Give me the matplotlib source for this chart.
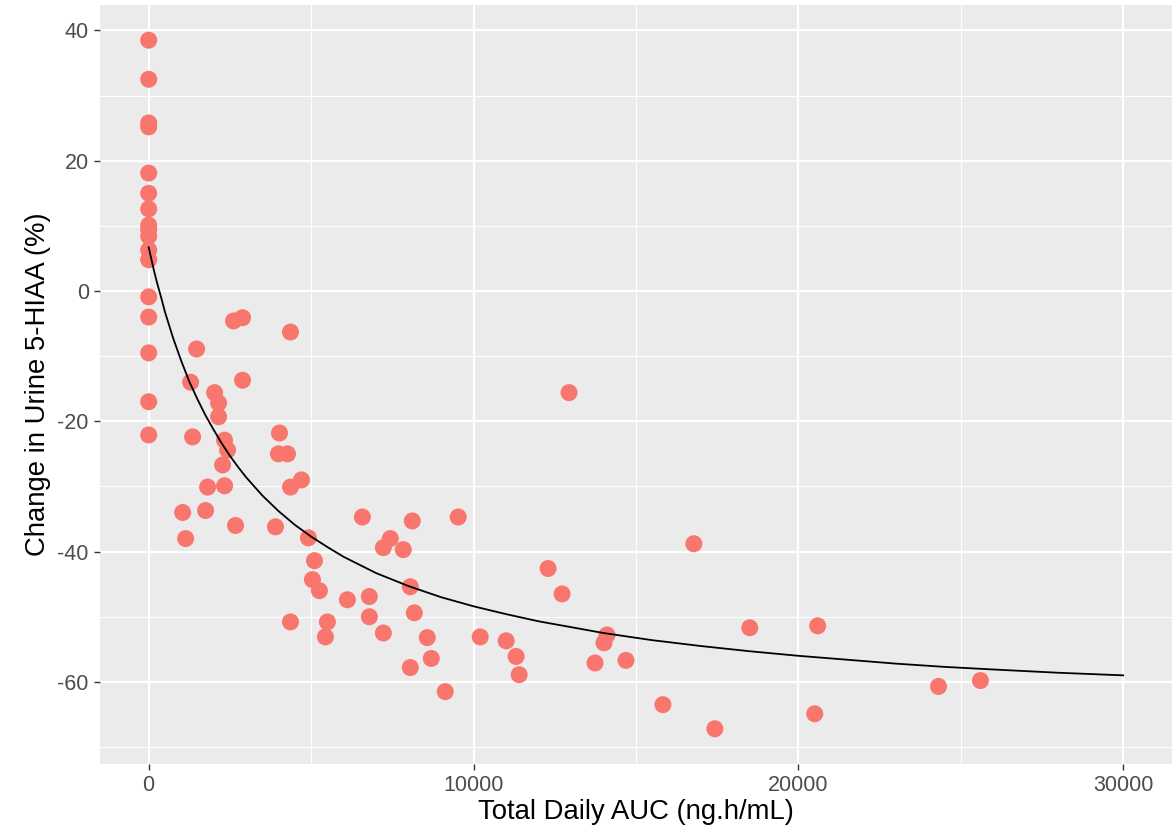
import matplotlib.pyplot as plt
import numpy as np

plt.rcParams['font.family'] = ['Liberation Sans', 'DejaVu Sans']
plt.rcParams['axes.unicode_minus'] = False

# observed points (AUC, % change)
auc = [0, 0, 0, 0, 0, 0, 0, 0, 0, 0, 0, 0, 0, 0, 0, 0, 0,
       2613, 2889, 4365, 1475, 1291, 2889, 2029, 2152, 2152, 12941,
       1352, 4027, 3996, 4273, 2336, 2428, 2275, 1814, 2336, 4365,
       4703, 1045, 1752, 2674, 1137, 3904, 4918, 5103, 5041, 5256,
       4365, 5502, 5441, 6117, 6793, 6793, 7224, 6578, 8115, 9529,
       7224, 7439, 7838, 8054, 8177, 8576, 8699, 8054, 9130, 10206,
       11005, 11312, 11405, 12296, 12726, 14110, 14017, 13741, 14694,
       16784, 15831, 17430, 18505, 20596, 20504, 24315, 25606]
change = [38.5, 32.5, 25.8, 25.2, 18.1, 15.0, 12.6, 10.1, 9.4, 8.4,
          6.3, 4.8, -0.9, -4.0, -9.5, -17.0, -22.1,
          -4.6, -4.1, -6.3, -8.9, -14.0, -13.7, -15.6, -17.2, -19.3, -15.6,
          -22.4, -21.8, -25.0, -25.0, -22.9, -24.4, -26.7, -30.1, -29.9, -30.1,
          -29.0, -34.0, -33.7, -36.0, -38.0, -36.2, -37.9, -41.4, -44.3, -46.0,
          -50.8, -50.8, -53.1, -47.4, -46.9, -50.0, -52.5, -34.7, -35.3, -34.7,
          -39.4, -38.0, -39.7, -45.4, -49.4, -53.2, -56.4, -57.8, -61.5, -53.1,
          -53.7, -56.1, -58.9, -42.6, -46.5, -52.8, -54.0, -57.1, -56.7,
          -38.8, -63.5, -67.2, -51.7, -51.4, -64.9, -60.7, -59.8]

# fitted curve
curve_auc = [0, 50, 100, 150, 200, 250, 300, 400, 500, 600, 750, 900,
             1000, 1250, 1500, 1750, 2000, 2250, 2500, 2750, 3000, 3500,
             4000, 4500, 5000, 5500, 6000, 7000, 8000, 9000, 10000, 11000,
             12000, 13000, 14000, 15500, 17000, 18500, 20000, 21500, 23000,
             24500, 26000, 28000, 30000]
curve_change = [6.7, 5.6, 4.5, 3.4, 2.4, 1.4, 0.5, -1.3, -3.2, -4.8, -7.2,
                -9.3, -10.7, -13.9, -16.6, -19.1, -21.3, -23.4, -25.3,
                -27.0, -28.6, -31.4, -33.8, -35.9, -37.7, -39.3, -40.8,
                -43.3, -45.3, -47.0, -48.4, -49.6, -50.7, -51.6, -52.5,
                -53.6, -54.5, -55.3, -56.0, -56.6, -57.2, -57.7, -58.1,
                -58.6, -59.0]

x_ticks = [0, 10000, 20000, 30000]
y_ticks = [-60, -40, -20, 0, 20, 40]

fig = plt.figure(figsize=(11.76, 8.34), dpi=100)
ax = fig.add_axes([0.085, 0.084, 0.9115, 0.91])
ax.set_facecolor('#EBEBEB')

ax.set_xlim(-1500, 31500)
ax.set_ylim(-72.6, 43.9)

ax.set_xticks(x_ticks)
ax.set_yticks(y_ticks)
ax.set_xticks([5000, 15000, 25000], minor=True)
ax.set_yticks([-70, -50, -30, -10, 10, 30], minor=True)
ax.grid(which='major', color='white', linewidth=1.6)
ax.grid(which='minor', color='white', linewidth=0.8)
ax.set_axisbelow(True)
for s in ax.spines.values():
    s.set_visible(False)

ax.tick_params(which='major', length=4, width=1, color='#333333',
               labelcolor='#4D4D4D', labelsize=15.5, pad=4)
ax.tick_params(which='minor', length=0)

ax.scatter(auc, change, s=150, color='#F8766D', edgecolors='none', zorder=3)
ax.plot(curve_auc, curve_change, color='black', linewidth=1.3, zorder=4)

ax.set_xlabel('Total Daily AUC (ng.h/mL)', fontsize=19.8, color='black', labelpad=2)
ax.set_ylabel('Change in Urine 5-HIAA (%)', fontsize=19.8, color='black', labelpad=5)

fig.savefig('out.png', dpi=100)
